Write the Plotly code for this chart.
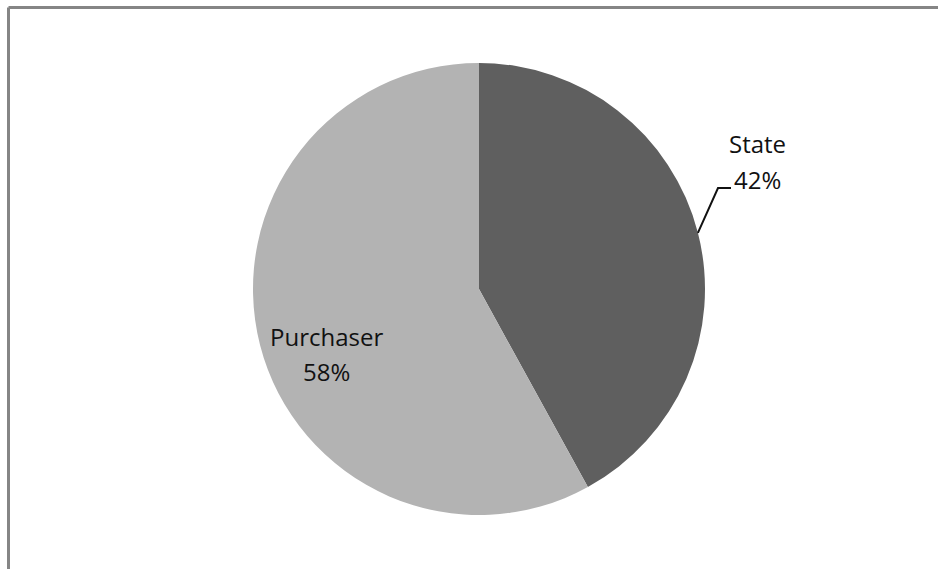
import math
import plotly.graph_objects as go

# Share of payment by party
categories = ["State", "Purchaser"]
values = [42, 58]
colors = ["#5f5f5f", "#b3b3b3"]

W, H = 938, 569
CX, CY, R = 479, 289, 226  # pie centre and radius in pixels

total = sum(values)
percents = [round(v / total * 100) for v in values]


def px_to_paper(x, y):
    return x / W, 1 - y / H


fig = go.Figure(
    go.Pie(
        labels=categories,
        values=values,
        marker=dict(colors=colors, line=dict(width=0)),
        sort=False,
        direction="clockwise",
        rotation=0,
        textinfo="none",
        hoverinfo="label+percent",
        showlegend=False,
        domain=dict(
            x=[(CX - R) / W, (CX + R) / W],
            y=[1 - (CY + R) / H, 1 - (CY - R) / H],
        ),
    )
)

# Mid-angle of each slice, clockwise from 12 o'clock
mids = []
acc = 0
for v in values:
    mids.append((acc + v / 2) / total * 2 * math.pi)
    acc += v

font = dict(family="'Open Sans', 'Noto Sans', sans-serif", size=24, color="#111111")
LINE_GAP = 35

# label centres (pixels): State placed outside with a leader, Purchaser inside
label_centres = [(757, 144), (326, 336)]

annotations = []
for name, pct, (lx, ly) in zip(categories, percents, label_centres):
    for i, txt in enumerate([name, f"{pct}%"]):
        px, py = px_to_paper(lx, ly + i * LINE_GAP)
        annotations.append(
            dict(x=px, y=py, xref="paper", yref="paper", text=txt,
                 showarrow=False, xanchor="center", yanchor="middle", font=font)
        )

shapes = []
# leader line for the State label
a = mids[0]
ex, ey = CX + R * math.sin(a), CY - R * math.cos(a)
elbow = (718, 188)
end = (731, 188)
pts = [px_to_paper(ex, ey), px_to_paper(*elbow), px_to_paper(*end)]
path = "M {} {} L {} {} L {} {}".format(*[c for p in pts for c in p])
shapes.append(dict(type="path", xref="paper", yref="paper", path=path,
                   line=dict(color="#111111", width=2)))

# chart frame (left and top edges)
fx0, fy0 = px_to_paper(8.5, 7.5)
shapes.append(dict(type="line", xref="paper", yref="paper",
                   x0=fx0, y0=0, x1=fx0, y1=fy0,
                   line=dict(color="#858585", width=3)))
shapes.append(dict(type="line", xref="paper", yref="paper",
                   x0=fx0, y0=fy0, x1=1, y1=fy0,
                   line=dict(color="#858585", width=3)))

fig.update_layout(
    width=W,
    height=H,
    margin=dict(l=0, r=0, t=0, b=0),
    paper_bgcolor="white",
    plot_bgcolor="white",
    annotations=annotations,
    shapes=shapes,
)

fig.write_html("out.html")
